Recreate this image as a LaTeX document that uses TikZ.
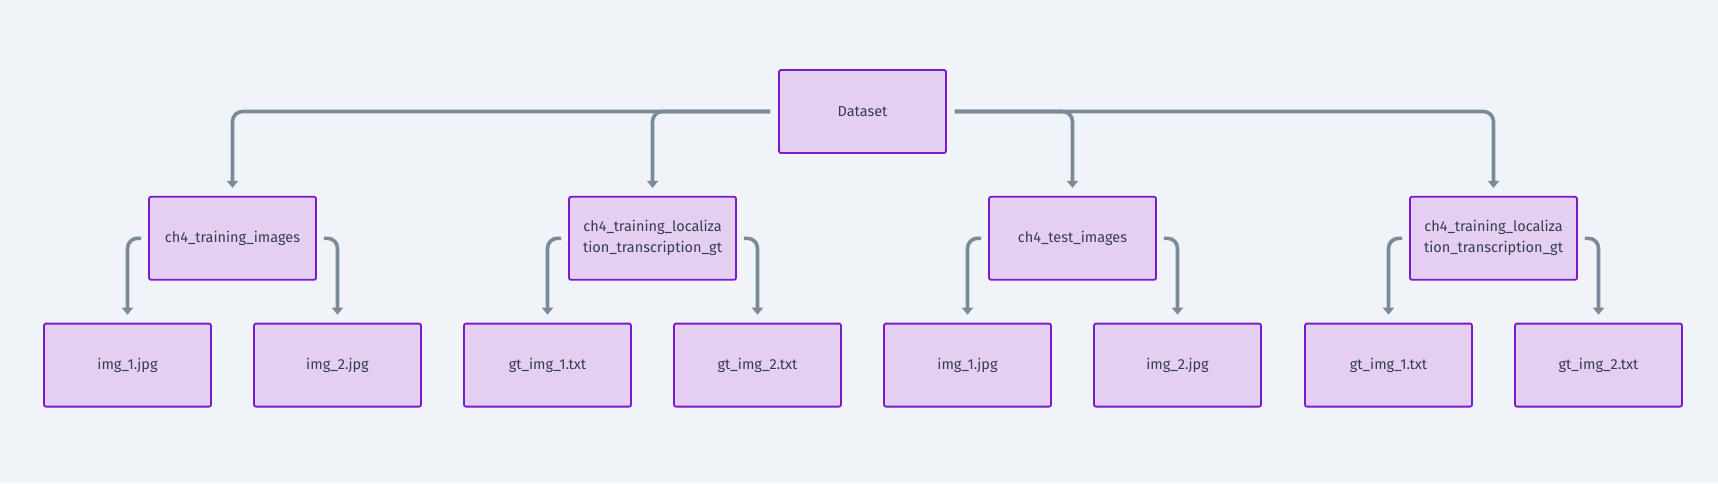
\documentclass[tikz,border=0pt]{standalone}
\usepackage{fontspec}
\setmainfont{Fira Sans}
\usepackage{tikz}
\usetikzlibrary{positioning,arrows.meta}

\definecolor{bgcol}{HTML}{F0F4F8}
\definecolor{boxfill}{HTML}{E4CFF3}
\definecolor{boxdraw}{HTML}{7A1BC9}
\definecolor{linecol}{HTML}{7B8A98}
\definecolor{textcol}{HTML}{363D4C}

\begin{document}
\begin{tikzpicture}[x=1pt, y=-1pt,
        folder/.style={rectangle, draw=boxdraw, fill=boxfill, line width=1.8pt, rounded corners=2pt,
            minimum width=167pt, minimum height=83pt, align=center, text=textcol, font=\fontsize{14.5}{21}\selectfont},
        conn/.style={draw=linecol, line width=3.6pt, rounded corners=10pt, -{Triangle[width=11pt,length=7pt]}}]
        \fill[bgcol] (0,0) rectangle (1718,483);
        \useasboundingbox (0,0) rectangle (1718,483);

        \node[folder] (dataset) at (862.5, 111.5) {Dataset};
        \node[folder] (trainImg) [below = 42pt of dataset, xshift=-630pt] {ch4\_training\_images};
        \node[folder] (trainGt) [below = 42pt of dataset, xshift=-210pt] {ch4\_training\_localiza\\tion\_transcription\_gt};
        \node[folder] (testImg) [below = 42pt of dataset, xshift=210pt] {ch4\_test\_images};
        \node[folder] (testGt) [below = 42pt of dataset, xshift=631pt] {ch4\_training\_localiza\\tion\_transcription\_gt};

        \node[folder] (trainImgA) [below = 42pt of trainImg, xshift=-105pt] {img\_1.jpg};
        \node[folder] (trainImgB) [below = 42pt of trainImg, xshift=105pt] {img\_2.jpg};
        \node[folder] (trainGtA) [below = 42pt of trainGt, xshift=-105pt] {gt\_img\_1.txt};
        \node[folder] (trainGtB) [below = 42pt of trainGt, xshift=105pt] {gt\_img\_2.txt};
        \node[folder] (testImgA) [below = 42pt of testImg, xshift=-105pt] {img\_1.jpg};
        \node[folder] (testImgB) [below = 42pt of testImg, xshift=105pt] {img\_2.jpg};
        \node[folder] (testGtA) [below = 42pt of testGt, xshift=-105pt] {gt\_img\_1.txt};
        \node[folder] (testGtB) [below = 42pt of testGt, xshift=105pt] {gt\_img\_2.txt};

        \draw[conn] ([xshift=-8pt]dataset.west) -| ([yshift=8pt]trainImg.north);
        \draw[conn] ([xshift=-8pt]dataset.west) -| ([yshift=8pt]trainGt.north);
        \draw[conn] ([xshift=8pt]dataset.east) -| ([yshift=8pt]testImg.north);
        \draw[conn] ([xshift=8pt]dataset.east) -| ([yshift=8pt]testGt.north);

        \draw[conn] ([xshift=-7pt]trainImg.west) -| ([yshift=8pt]trainImgA.north);
        \draw[conn] ([xshift=7pt]trainImg.east) -| ([yshift=8pt]trainImgB.north);
        \draw[conn] ([xshift=-7pt]trainGt.west) -| ([yshift=8pt]trainGtA.north);
        \draw[conn] ([xshift=7pt]trainGt.east) -| ([yshift=8pt]trainGtB.north);
        \draw[conn] ([xshift=-7pt]testImg.west) -| ([yshift=8pt]testImgA.north);
        \draw[conn] ([xshift=7pt]testImg.east) -| ([yshift=8pt]testImgB.north);
        \draw[conn] ([xshift=-7pt]testGt.west) -| ([yshift=8pt]testGtA.north);
        \draw[conn] ([xshift=7pt]testGt.east) -| ([yshift=8pt]testGtB.north);
      \end{tikzpicture}
\end{document}
